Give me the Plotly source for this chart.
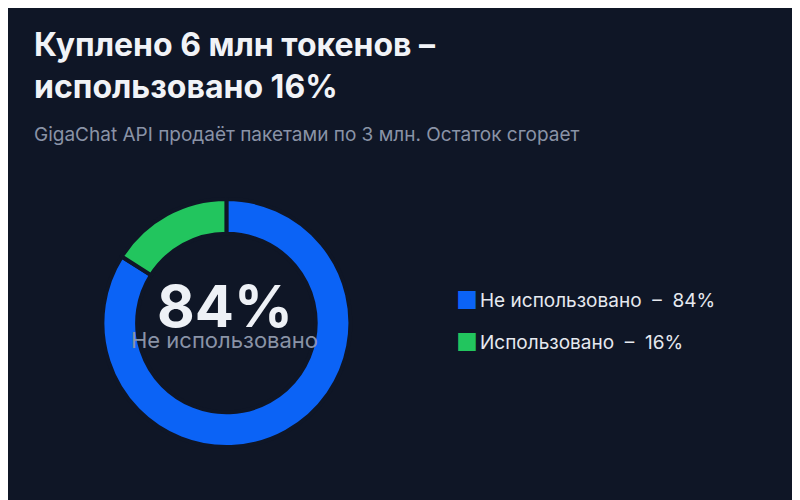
import plotly.graph_objects as go

categories = ["Не использовано", "Использовано"]
values = [84, 16]
colors = ["#0b63f6", "#22c55e"]
title = "Куплено 6 млн токенов –<br>использовано 16%"
subtitle = "GigaChat API продаёт пакетами по 3 млн. Остаток сгорает"

bg = "#0f1626"
legend_labels = [f"{c}  –  {v}%" for c, v in zip(categories, values)]

fig = go.Figure(go.Pie(
    labels=legend_labels, values=values, hole=0.72, sort=False,
    direction="clockwise", rotation=0,
    marker=dict(colors=colors, line=dict(color=bg, width=4)),
    textinfo="none", hoverinfo="label",
    domain=dict(x=[0.118, 0.428], y=[0.12, 0.62]),
))
ann = [
    dict(text=f"<b>{title}</b>", x=0.03, y=0.97, xref="paper", yref="paper",
         xanchor="left", yanchor="top", showarrow=False, align="left",
         font=dict(size=32, color="#f1f3f7")),
    dict(text=subtitle, x=0.03, y=0.748, xref="paper", yref="paper",
         xanchor="left", yanchor="middle", showarrow=False,
         font=dict(size=19, color="#8a93a6")),
    dict(text=f"<b>{values[0]}%</b>", x=0.271, y=0.405, xref="paper", yref="paper",
         xanchor="center", yanchor="middle",
         showarrow=False, font=dict(size=58, color="#eef1f6")),
    dict(text=categories[0], x=0.271, y=0.336, xref="paper", yref="paper",
         xanchor="center", yanchor="middle",
         showarrow=False, font=dict(size=22, color="#8a93a6")),
]
for i, (lab, col) in enumerate(zip(legend_labels, colors)):
    yy = 0.415 - i * 0.083
    ann.append(dict(text="■", x=0.557, y=yy, xref="paper", yref="paper",
                    xanchor="left", yanchor="middle", showarrow=False,
                    font=dict(size=24, color=col)))
    ann.append(dict(text=lab.replace("  ", "&nbsp;&nbsp;"), x=0.588, y=yy, xref="paper", yref="paper",
                    xanchor="left", yanchor="middle", showarrow=False,
                    font=dict(size=19, color="#e6e9ef")))
fig.update_layout(
    width=800, height=500, paper_bgcolor=bg, plot_bgcolor=bg,
    margin=dict(l=0, r=0, t=0, b=0),
    font=dict(family="Inter, Roboto, sans-serif", color="#e6e9ef"),
    showlegend=False, annotations=ann,
)
fig.write_html("out.html")
